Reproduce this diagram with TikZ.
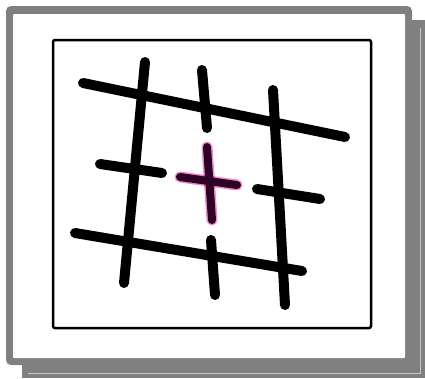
\documentclass[tikz,border=0pt]{standalone}
\begin{document}
\begin{tikzpicture}[x=1pt,y=-1pt,
  gridline/.style={line width=10pt,line cap=round,black},
  crosshalo/.style={line width=11pt,line cap=round,magenta,opacity=0.45},
  crosscore/.style={line width=8pt,line cap=round,crossdark}]
\definecolor{framegray}{RGB}{128,128,128}
\definecolor{lightgray2}{RGB}{200,200,200}
\definecolor{crossdark}{RGB}{45,0,38}
\useasboundingbox (0,0) rectangle (425,378);
\fill[white] (0,0) rectangle (425,378);
% shadow
\fill[framegray] (22,20) rectangle (425,378);
\draw[lightgray2,line width=1pt] (420,28) -- (420,373) -- (28,373);
% frame
\fill[framegray,rounded corners=5pt] (6,6) rectangle (412,365);
\fill[white,rounded corners=1pt] (13,14) rectangle (405,358);
% inner picture border
\draw[line width=2.5pt,rounded corners=2pt] (53,40) rectangle (371,328);
% grid lines
\draw[gridline] (83,83) -- (345,137);
\draw[gridline] (100,164) -- (162,173);
\draw[gridline] (257,189) -- (320,199);
\draw[gridline] (75,233) -- (302,271);
\draw[gridline] (145,62) -- (124,283);
\draw[gridline] (202,70) -- (207,128);
\draw[gridline] (211,240) -- (215,295);
\draw[gridline] (273,90) -- (285,305);
% cross
\draw[crosshalo] (180,177) -- (237,185);
\draw[crosshalo] (207,147) -- (212,220);
\draw[crosscore] (180,177) -- (237,185);
\draw[crosscore] (207,147) -- (212,220);
\end{tikzpicture}
\end{document}
